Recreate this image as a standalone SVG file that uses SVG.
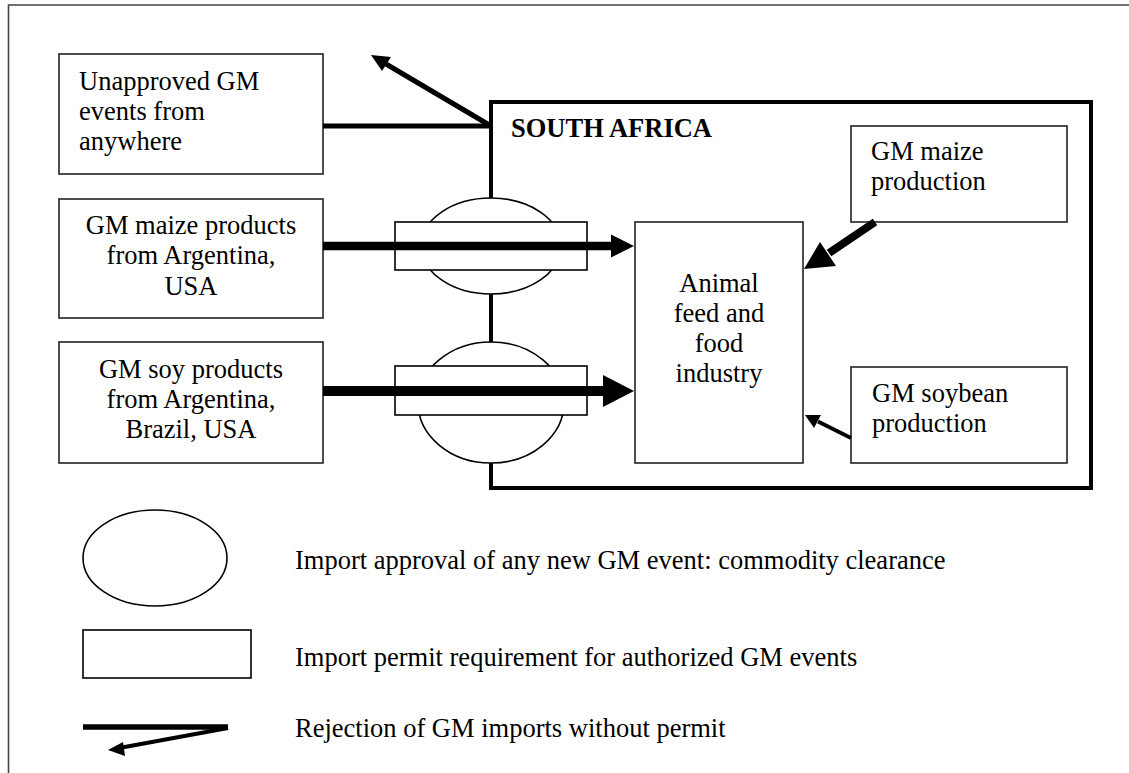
<svg xmlns="http://www.w3.org/2000/svg" width="1129" height="773" viewBox="0 0 1129 773">
<style>
  text { font-family: "Liberation Serif", "Times New Roman", serif; font-size: 26.5px; fill: #000; }
  .c { text-anchor: middle; }
  .b { font-weight: bold; }
  .box { fill: #fff; stroke: #222; stroke-width: 1.6; }
  .thin { fill: #fff; stroke: #000; stroke-width: 1.6; }
  .frame { fill: none; stroke: #444; stroke-width: 1.6; }
</style>
<rect x="0" y="0" width="1129" height="773" fill="#fff"/>
<path class="frame" d="M8.5,773 V5 H1129"/>

<g id="south-africa">
  <rect x="491" y="102" width="600" height="386" fill="none" stroke="#000" stroke-width="4"/>
  <text class="b" x="511" y="137">SOUTH AFRICA</text>
</g>

<g id="unapproved">
  <rect class="box" x="59" y="54" width="264" height="120"/>
  <text x="79" y="90">Unapproved GM</text>
  <text x="79" y="120">events from</text>
  <text x="79" y="150">anywhere</text>
</g>

<g id="maize-imports">
  <rect class="box" x="59" y="199" width="264" height="119"/>
  <text class="c" x="191" y="234">GM maize products</text>
  <text class="c" x="191" y="264">from Argentina,</text>
  <text class="c" x="191" y="295">USA</text>
</g>

<g id="soy-imports">
  <rect class="box" x="59" y="342" width="264" height="121"/>
  <text class="c" x="191" y="378">GM soy products</text>
  <text class="c" x="191" y="408">from Argentina,</text>
  <text class="c" x="191" y="438">Brazil, USA</text>
</g>

<g id="clearance-maize">
  <ellipse class="thin" cx="491" cy="246" rx="70" ry="48"/>
</g>
<g id="clearance-soy">
  <ellipse class="thin" cx="491" cy="402.5" rx="73" ry="60.5"/>
</g>
<g id="permit-maize">
  <rect class="thin" x="395" y="222" width="192" height="48"/>
</g>
<g id="permit-soy">
  <rect class="thin" x="395" y="366" width="192" height="49"/>
</g>

<g id="animal-feed">
  <rect class="box" x="635" y="222" width="168" height="241"/>
  <text class="c" x="719" y="292">Animal</text>
  <text class="c" x="719" y="322">feed and</text>
  <text class="c" x="719" y="352">food</text>
  <text class="c" x="719" y="382">industry</text>
</g>

<g id="maize-production">
  <rect class="box" x="851" y="126" width="216" height="96"/>
  <text x="871" y="160">GM maize</text>
  <text x="871" y="190">production</text>
</g>

<g id="soybean-production">
  <rect class="box" x="851" y="367" width="216" height="96"/>
  <text x="872" y="402">GM soybean</text>
  <text x="872" y="432">production</text>
</g>

<g id="connectors">
  <!-- rejection of unapproved events -->
  <line x1="323" y1="126" x2="491" y2="126" stroke="#000" stroke-width="5"/>
  <line x1="491" y1="126" x2="386" y2="64" stroke="#000" stroke-width="5"/>
  <polygon points="371,55 391,57 382,71" fill="#000"/>
  <!-- maize import -->
  <line x1="323" y1="246" x2="612" y2="246" stroke="#000" stroke-width="8.5"/>
  <polygon points="611,234.5 634,246 611,257.5" fill="#000"/>
  <!-- soy import -->
  <line x1="323" y1="391" x2="604" y2="391" stroke="#000" stroke-width="10"/>
  <polygon points="603,375 634,391 603,407" fill="#000"/>
  <!-- maize production -->
  <line x1="875" y1="222" x2="829" y2="253" stroke="#000" stroke-width="8"/>
  <polygon points="804,269 820,242 836,266" fill="#000"/>
  <!-- soybean production -->
  <line x1="851" y1="438" x2="818" y2="421.5" stroke="#000" stroke-width="4"/>
  <polygon points="805,415 821,415 814,428" fill="#000"/>
</g>

<g id="legend">
  <ellipse class="thin" cx="155" cy="558" rx="72" ry="48"/>
  <text x="295" y="569">Import approval of any new GM event: commodity clearance</text>
  <rect class="thin" x="83" y="630" width="168" height="48"/>
  <text x="295" y="666">Import permit requirement for authorized GM events</text>
  <line x1="83" y1="727" x2="228" y2="727" stroke="#000" stroke-width="5.5"/>
  <line x1="228" y1="728" x2="122" y2="747.5" stroke="#000" stroke-width="4"/>
  <polygon points="108,750 123,742 125,756" fill="#000"/>
  <text x="295" y="737">Rejection of GM imports without permit</text>
</g>
</svg>
